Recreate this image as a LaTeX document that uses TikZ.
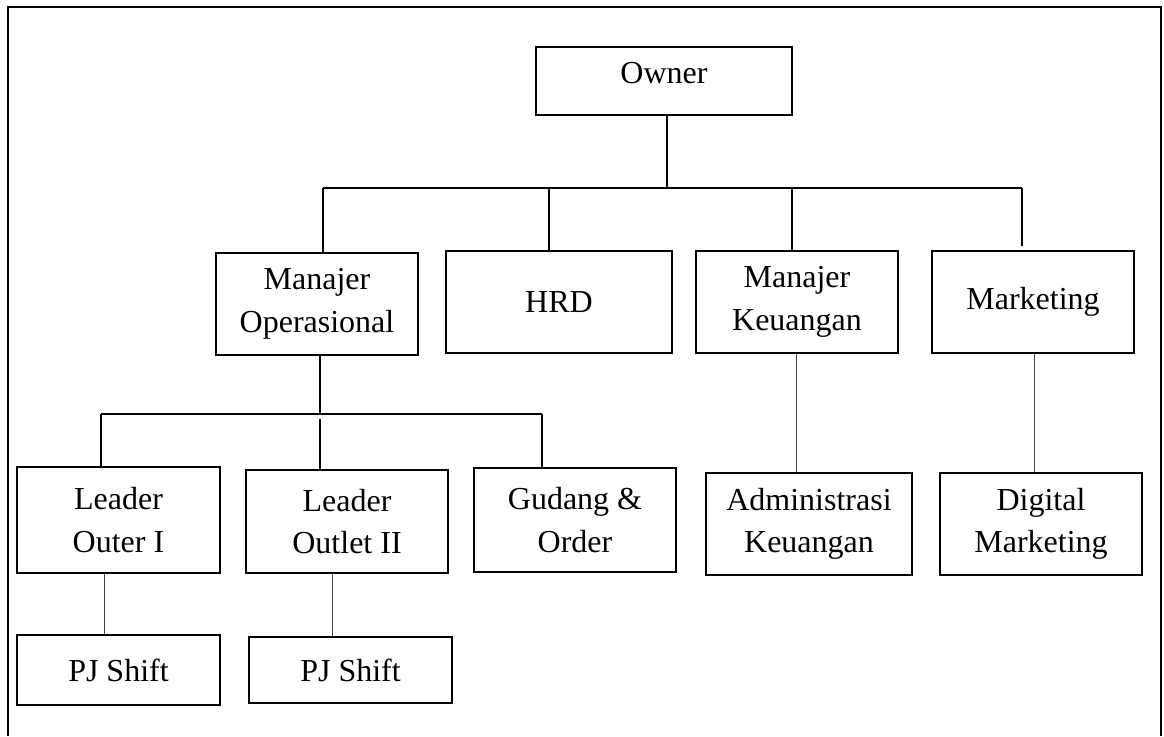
\documentclass[tikz,border=0pt]{standalone}
\usepackage{fontspec}
\setmainfont{Liberation Serif}
\begin{document}
\begin{tikzpicture}[x=1pt,y=-1pt,
  box/.style={draw, line width=1.6pt, inner sep=0pt, align=center,
    font=\fontsize{32}{42.5}\selectfont},
  conn/.style={line width=1.8pt},
  thinconn/.style={line width=1pt, draw=black!75},
  frame/.style={line width=2pt}]
\useasboundingbox (0,0) rectangle (1164,736);
\draw[frame] (8,736) -- (8,7) -- (1161,7) -- (1161,736);

% level 0
\node[box, minimum width=256pt, minimum height=68pt, text depth=17pt] (owner) at (664,81) {Owner};
% level 1
\node[box, minimum width=202pt, minimum height=102pt] (mo)  at (317,304)  {Manajer\\Operasional};
\node[box, minimum width=226pt, minimum height=102pt] (hrd) at (559,302)  {HRD};
\node[box, minimum width=202pt, minimum height=102pt] (mk)  at (797,302)  {Manajer\\Keuangan};
\node[box, minimum width=202pt, minimum height=102pt] (mkt) at (1033,302) {Marketing};
% level 2
\node[box, minimum width=203pt, minimum height=106pt] (lo1) at (118.5,520) {Leader\\Outer I};
\node[box, minimum width=202pt, minimum height=103pt] (lo2) at (347,521.5) {Leader\\Outlet II};
\node[box, minimum width=202pt, minimum height=104pt] (gud) at (575,520)   {Gudang \&\\Order};
\node[box, minimum width=206pt, minimum height=102pt] (adm) at (809,524)   {Administrasi\\Keuangan};
\node[box, minimum width=202pt, minimum height=102pt] (dig) at (1041,524)  {Digital\\Marketing};
% level 3
\node[box, minimum width=203pt, minimum height=70pt] (pj1) at (118.5,670) {PJ Shift};
\node[box, minimum width=203pt, minimum height=66pt] (pj2) at (350.5,670) {PJ Shift};

% top bus
\coordinate (b0) at (667,188);
\coordinate (bL) at (323,188);
\coordinate (bH) at (549,188);
\coordinate (bK) at (792,188);
\coordinate (bR) at (1022,188);
\draw[conn] (owner.south -| b0) -- (b0);
\draw[conn] (bL) -- (bR);
\draw[conn] (bL) -- (bL |- mo.north);
\draw[conn] (bH) -- (bH |- hrd.north);
\draw[conn] (bK) -- (bK |- mk.north);
\draw[conn] (bR) -- ([yshift=4pt]bR |- mkt.north);

% operational bus
\coordinate (c0) at (320,414);
\coordinate (cL) at (101,414);
\coordinate (cM) at (320,419);
\coordinate (cR) at (542,414);
\draw[conn] (mo.south -| c0) -- (c0);
\draw[conn] (cL) -- (cR);
\draw[conn] (cL) -- (cL |- lo1.north);
\draw[conn] (cM) -- (cM |- lo2.north);
\draw[conn] (cR) -- (cR |- gud.north);

% thin connectors
\coordinate (t1) at (104,600);
\coordinate (t2) at (332,600);
\coordinate (t3) at (796,400);
\coordinate (t4) at (1034,400);
\draw[thinconn] (lo1.south -| t1) -- (pj1.north -| t1);
\draw[thinconn] (lo2.south -| t2) -- (pj2.north -| t2);
\draw[thinconn] (mk.south -| t3) -- (adm.north -| t3);
\draw[thinconn] (mkt.south -| t4) -- (dig.north -| t4);
\end{tikzpicture}
\end{document}
